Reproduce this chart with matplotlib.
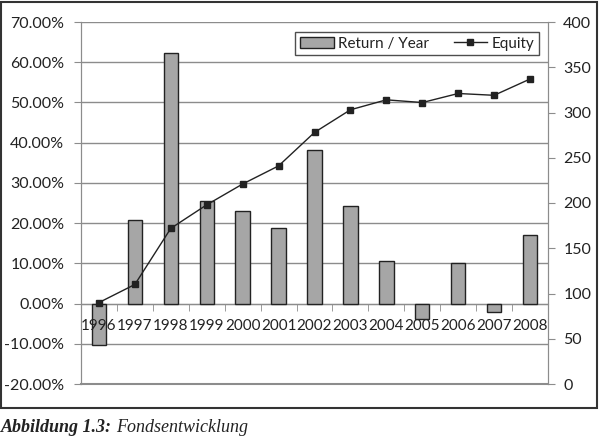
import numpy as np
import matplotlib
matplotlib.use('Agg')
import matplotlib.pyplot as plt
from matplotlib.patches import Rectangle
from matplotlib.ticker import FuncFormatter, FixedLocator
from matplotlib.transforms import offset_copy

years = ['1996', '1997', '1998', '1999', '2000', '2001', '2002',
         '2003', '2004', '2005', '2006', '2007', '2008']
returns = [-10.2, 20.8, 62.4, 25.5, 23.0, 18.8, 38.3,
           24.3, 10.7, -3.8, 10.2, -2.0, 17.1]
equity = [90, 110, 172, 198, 221, 241, 278,
          303, 314, 311, 321, 319, 337]

plt.rcParams['font.family'] = ['Lato', 'DejaVu Sans']
fs = 11.5

fig = plt.figure(figsize=(6, 4.41), dpi=100)
ax = fig.add_axes([81/600, 57/441, 467/600, 362/441])
ax2 = ax.twinx()

x = np.arange(len(years))
ax.bar(x, np.array(returns) / 100, width=0.4, color='#a6a6a6',
       edgecolor='#222222', linewidth=1.0, zorder=3, label='Return / Year')
ax2.plot(x, equity, color='#222222', linewidth=1.0, marker='s',
         markersize=5, label='Equity')

ax.set_xlim(-0.5, len(years) - 0.5)
ax.set_ylim(-0.2, 0.7)
ax2.set_ylim(0, 400)

ax.yaxis.set_major_locator(FixedLocator(np.arange(-0.2, 0.71, 0.1)))
ax.yaxis.set_major_formatter(FuncFormatter(lambda v, p: f'{v*100:.2f}%'))
ax.grid(True, axis='y', color='#8c8c8c', linewidth=1.0, zorder=0)
ax.set_axisbelow(True)
ax.axhline(-0.2, color='#8c8c8c', linewidth=1.5, clip_on=False, zorder=1)
ax2.set_yticks(np.arange(0, 401, 50))

# x axis sits on the 0 line, ticks between categories
ax.spines['bottom'].set_position(('data', 0))
ax.spines['bottom'].set_color('#8c8c8c')
ax.set_xticks(x)
ax.set_xticklabels([])
ax.set_xticks(np.arange(-0.5, len(years), 1.0), minor=True)
ax.tick_params(axis='x', which='major', length=0)
ax.tick_params(axis='x', which='minor', length=5, direction='out',
               color='#8c8c8c')
ax.tick_params(axis='y', length=5, color='#8c8c8c', labelsize=fs,
               labelcolor='#222222', pad=7)
ax2.tick_params(axis='y', length=5, color='#8c8c8c', labelsize=fs,
                labelcolor='#222222', pad=6)

# year labels drawn above the bars (as in the original)
lab_tr = offset_copy(ax.transData, fig=fig, x=0, y=-16, units='points')
for xi, yr in zip(x, years):
    ax.text(xi, 0, yr, transform=lab_tr, ha='center', va='center',
            fontsize=11, color='#222222', zorder=6)

for a in (ax, ax2):
    a.spines['top'].set_visible(False)
    a.spines['left'].set_color('#8c8c8c')
    a.spines['right'].set_color('#8c8c8c')
ax2.spines['bottom'].set_visible(False)

h1, l1 = ax.get_legend_handles_labels()
h2, l2 = ax2.get_legend_handles_labels()
leg = ax2.legend(h1 + h2, l1 + l2, loc='upper right', ncol=2,
                 bbox_to_anchor=(0.981, 0.972), borderaxespad=0,
                 frameon=True, fancybox=False,
                 edgecolor='#222222', fontsize=11, handlelength=2.2,
                 handletextpad=0.3, columnspacing=1.6, borderpad=0.3)
leg.get_frame().set_linewidth(1.0)
for t in leg.get_texts():
    t.set_color('#222222')

# outer frame
fig.patches.append(Rectangle((0.002, 33/441), 0.993, 406/441,
                             transform=fig.transFigure, fill=False,
                             edgecolor='#333333', linewidth=1.5))

cap1 = fig.text(0.002, 14/441, 'Abbildung 1.3:', family='Liberation Serif',
                weight='bold', style='italic', fontsize=13, va='center',
                color='#222222')
fig.canvas.draw()
bb = cap1.get_window_extent()
fig.text(bb.x1 / 600 + 0.006, 14/441, 'Fondsentwicklung',
         family='Liberation Serif', style='italic', fontsize=13,
         va='center', color='#222222')

fig.savefig('out.png', dpi=100)
